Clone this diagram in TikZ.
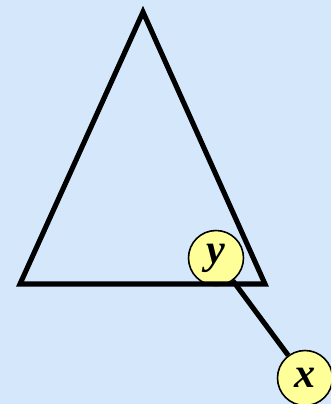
\documentclass[tikz,border=0pt]{standalone}
\usepackage{fontspec}
\setmainfont{Liberation Serif}
\usetikzlibrary{positioning}
\definecolor{fondo}{HTML}{D5E7FB}
\definecolor{amarillo}{HTML}{FFFF99}

\begin{document}
\begin{tikzpicture}[
    x=0.02cm, y=-0.02cm,
    vertice/.style={circle, draw=black, line width=0.9pt, fill=amarillo,
      minimum size=1.1cm, inner sep=0pt,
      font=\fontsize{24}{24}\selectfont\bfseries\itshape},
    lado/.style={line width=2.9pt, draw=black, line join=miter},
    arista/.style={line width=2.9pt, draw=black}
  ]
    \fill[fondo] (0,0) rectangle (331,404);
    \clip (0,0) rectangle (331,404);

    \coordinate (apice) at (143,12);
    \coordinate (izq) at (20,284);
    \coordinate (der) at (265,284);

    \node[vertice] (y) at (216,258) {y};
    \node[vertice] (x) at (305,378) {x};

    \draw[arista] (y) -- (x);
    \draw[lado] (apice) -- (der) -- (izq) -- cycle;
  \end{tikzpicture}
\end{document}
